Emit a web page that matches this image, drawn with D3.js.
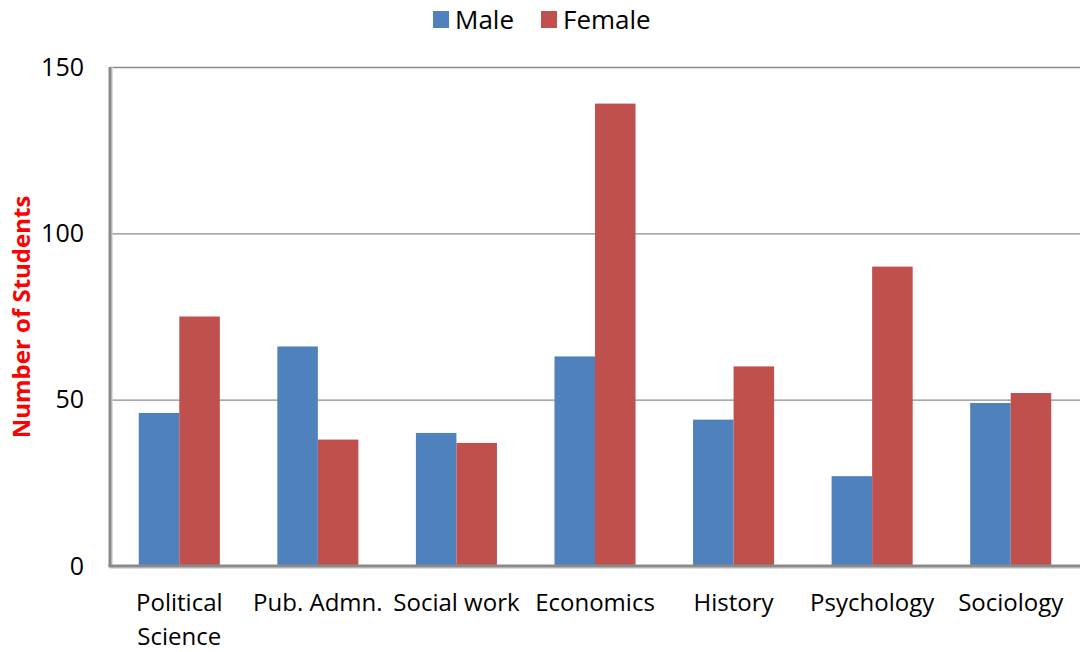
<!DOCTYPE html>
<html lang="en">
<head>
<meta charset="utf-8">
<title>Students by Department</title>
<script src="https://d3js.org/d3.v7.min.js"></script>
<style>
  body { margin: 0; background: #fff; }
  svg { display: block; font-family: "Open Sans", "Noto Sans", sans-serif; }
</style>
</head>
<body>
<div id="chart"></div>
<script>
// data
const departments = ["Political Science", "Pub. Admn.", "Social work", "Economics", "History", "Psychology", "Sociology"];
const maleValues = [46, 66, 40, 63, 44, 27, 49];
const femaleValues = [75, 38, 37, 139, 60, 90, 52];
const seriesNames = ["Male", "Female"];
const yTicks = [0, 50, 100, 150];

const width = 1080;
const height = 652;
const plotLeft = 110, plotRight = 1080, plotTop = 67, plotBottom = 566;
const colors = {Male: "#4F81BD", Female: "#C0504D"};
const fontFam = "'Open Sans', 'Noto Sans', sans-serif";

const rows = departments.map((d, i) => ({dept: d, Male: maleValues[i], Female: femaleValues[i]}));

const svg = d3.select("#chart")
  .append("svg")
  .attr("width", width)
  .attr("height", height);

const x0 = d3.scaleBand()
  .domain(departments)
  .range([plotLeft, plotRight])
  .paddingInner(0.415)
  .paddingOuter(0.2075);

const x1 = d3.scaleBand()
  .domain(seriesNames)
  .range([0, x0.bandwidth()]);

const y = d3.scaleLinear()
  .domain([0, 150])
  .range([plotBottom, plotTop]);

// gridlines
svg.append("g")
  .selectAll("line")
  .data(yTicks.filter(t => t > 0))
  .enter()
  .append("line")
  .attr("x1", plotLeft)
  .attr("x2", plotRight)
  .attr("y1", d => y(d) + 0.5)
  .attr("y2", d => y(d) + 0.5)
  .attr("stroke", "#8c8c8c")
  .attr("stroke-width", 1.3);

// bars
svg.append("g")
  .selectAll("g")
  .data(rows)
  .enter()
  .append("g")
  .attr("transform", d => `translate(${x0(d.dept)},0)`)
  .selectAll("rect")
  .data(d => seriesNames.map(s => ({key: s, value: d[s]})))
  .enter()
  .append("rect")
  .attr("x", d => x1(d.key))
  .attr("width", x1.bandwidth())
  .attr("y", d => y(d.value))
  .attr("height", d => y(0) - y(d.value))
  .attr("fill", d => colors[d.key]);

// y axis
const yAxis = d3.axisLeft(y).tickValues(yTicks).tickSize(0).tickPadding(26);
const gy = svg.append("g")
  .attr("transform", `translate(${plotLeft},0)`)
  .call(yAxis);
gy.select(".domain").remove();
gy.attr("font-family", fontFam);
gy.selectAll("text")
  .attr("font-size", 25)
  .attr("fill", "#000");

// axis lines with light shadow
svg.append("line")
  .attr("x1", plotLeft + 2).attr("x2", plotLeft + 2)
  .attr("y1", plotTop).attr("y2", plotBottom + 2)
  .attr("stroke", "#d0d0d0").attr("stroke-width", 1.5);
svg.append("line")
  .attr("x1", plotLeft).attr("x2", plotLeft)
  .attr("y1", plotTop).attr("y2", plotBottom)
  .attr("stroke", "#8a8a8a").attr("stroke-width", 3);
svg.append("line")
  .attr("x1", plotLeft).attr("x2", plotRight)
  .attr("y1", plotBottom + 2).attr("y2", plotBottom + 2)
  .attr("stroke", "#d0d0d0").attr("stroke-width", 1.5);
svg.append("line")
  .attr("x1", plotLeft - 1.5).attr("x2", plotRight)
  .attr("y1", plotBottom).attr("y2", plotBottom)
  .attr("stroke", "#8a8a8a").attr("stroke-width", 3);

// x labels (wrapped like the original)
const xAxis = d3.axisBottom(x0).tickSize(0).tickPadding(0);
const gx = svg.append("g")
  .attr("transform", `translate(0,${plotBottom})`)
  .call(xAxis);
gx.select(".domain").remove();
gx.attr("font-family", fontFam);
gx.selectAll("text")
  .attr("font-size", 24)
  .attr("fill", "#000")
  .attr("dy", null)
  .attr("y", 0)
  .each(function(d) {
    const t = d3.select(this);
    const lines = d === "Political Science" ? ["Political", "Science"] : [d];
    t.text(null);
    lines.forEach((ln, i) => {
      t.append("tspan")
        .attr("x", 0)
        .attr("y", 45 + i * 34)
        .text(ln);
    });
  });

// y axis title
svg.append("text")
  .attr("transform", `translate(30,317) rotate(-90)`)
  .attr("text-anchor", "middle")
  .attr("font-size", 24)
  .attr("font-weight", "bold")
  .attr("fill", "#FF0000")
  .text("Number of Students");

// legend
const legendItems = [{name: "Male", x: 433}, {name: "Female", x: 541}];
const legend = svg.append("g");
legendItems.forEach(it => {
  legend.append("rect")
    .attr("x", it.x).attr("y", 11)
    .attr("width", 16).attr("height", 17)
    .attr("fill", colors[it.name]);
  legend.append("text")
    .attr("x", it.x + 22).attr("y", 29)
    .attr("font-size", 26)
    .attr("fill", "#000")
    .text(it.name);
});
</script>
</body>
</html>
